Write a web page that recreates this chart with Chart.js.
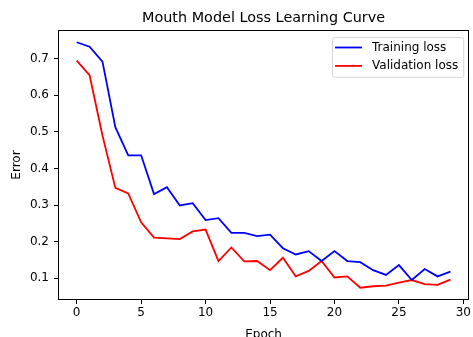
<!DOCTYPE html>
<html>
<head>
<meta charset="utf-8">
<script src="https://cdn.jsdelivr.net/npm/chart.js@4.4.0/dist/chart.umd.min.js"></script>
<style>
  html, body { margin: 0; padding: 0; background: #fff; }
  #wrap { width: 473px; height: 337px; }
</style>
</head>
<body>
<div id="wrap"><canvas id="lossChart" width="473" height="337"></canvas></div>
<script>
// epochs 0..29
var epochs = [];
for (var i = 0; i < 30; i++) {
    epochs.push(i);
}

// values
var trainingLoss = [0.745, 0.733, 0.692, 0.513, 0.436, 0.436, 0.330, 0.349, 0.299, 0.305,
                    0.259, 0.264, 0.224, 0.224, 0.215, 0.219, 0.182, 0.165, 0.174, 0.147,
                    0.174, 0.147, 0.144, 0.122, 0.109, 0.136, 0.095, 0.125, 0.105, 0.118];
var validationLoss = [0.695, 0.655, 0.490, 0.347, 0.332, 0.253, 0.211, 0.209, 0.207, 0.228,
                      0.233, 0.147, 0.184, 0.146, 0.147, 0.122, 0.156, 0.105, 0.120, 0.147,
                      0.102, 0.105, 0.074, 0.078, 0.080, 0.088, 0.095, 0.084, 0.082, 0.096];

var xTicks = [0, 5, 10, 15, 20, 25, 30];
var yTicks = [0.1, 0.2, 0.3, 0.4, 0.5, 0.6, 0.7];

var titleText = "Mouth Model Loss Learning Curve";
var xLabel = "Epoch";
var yLabel = "Error";

var FONT = "'DejaVu Sans', sans-serif";

// matplotlib style 5% margins
var allY = trainingLoss.concat(validationLoss);
var yMin = Math.min.apply(null, allY), yMax = Math.max.apply(null, allY);
var yPad = (yMax - yMin) * 0.05;
var xPad = (epochs[epochs.length - 1] - epochs[0]) * 0.05;

function toPoints(vals) {
    var pts = [];
    for (var i = 0; i < vals.length; i++) pts.push({x: epochs[i], y: vals[i]});
    return pts;
}

// frame, title, axis labels and legend inside the plot
var decorations = {
    id: 'decorations',
    afterDraw: function(chart) {
        var ctx = chart.ctx, a = chart.chartArea;
        ctx.save();
        ctx.strokeStyle = '#000';
        ctx.lineWidth = 1;
        var l = Math.round(a.left) + 0.5, t = Math.round(a.top) + 0.5;
        var r = Math.round(a.right) - 0.5, b = Math.round(a.bottom) - 0.5;
        ctx.strokeRect(l, t, r - l, b - t);

        ctx.fillStyle = '#000';
        ctx.textAlign = 'center';
        ctx.textBaseline = 'middle';
        ctx.font = '14.4px ' + FONT;
        ctx.fillText(titleText, (a.left + a.right) / 2, 18);
        ctx.font = '12px ' + FONT;
        ctx.fillText(xLabel, (a.left + a.right) / 2, a.bottom + 34.5);
        ctx.save();
        ctx.translate(17, (a.top + a.bottom) / 2);
        ctx.rotate(-Math.PI / 2);
        ctx.fillText(yLabel, 0, 0);
        ctx.restore();

        // legend
        var ds = chart.data.datasets;
        ctx.font = '12px ' + FONT;
        var maxW = 0;
        ds.forEach(function(d) { maxW = Math.max(maxW, ctx.measureText(d.label).width); });
        var rowH = 18.4;
        var boxW = 3 + 27 + 10 + maxW + 5;
        var boxH = ds.length * rowH + 3;
        var bx = Math.round(a.right - 6 - boxW), by = Math.round(a.top + 7);
        ctx.fillStyle = 'rgba(255,255,255,0.8)';
        ctx.strokeStyle = '#d6d6d6';
        ctx.lineWidth = 1;
        ctx.beginPath();
        ctx.roundRect(bx + 0.5, by + 0.5, boxW, boxH, 2);
        ctx.fill();
        ctx.stroke();
        ds.forEach(function(d, i) {
            var cy = by + 10.5 + i * rowH;
            ctx.strokeStyle = d.borderColor;
            ctx.lineWidth = d.borderWidth;
            ctx.beginPath();
            ctx.moveTo(bx + 3, cy);
            ctx.lineTo(bx + 30, cy);
            ctx.stroke();
            ctx.fillStyle = '#000';
            ctx.textAlign = 'left';
            ctx.fillText(d.label, bx + 40, cy);
        });
        ctx.restore();
    }
};

new Chart(document.getElementById("lossChart"), {
    type: 'line',
    data: {
        datasets: [{
            label: "Training loss",
            data: toPoints(trainingLoss),
            borderColor: '#0000ff',
            borderWidth: 1.8,
            pointRadius: 0,
            tension: 0
        }, {
            label: "Validation loss",
            data: toPoints(validationLoss),
            borderColor: '#ff0000',
            borderWidth: 1.8,
            pointRadius: 0,
            tension: 0
        }]
    },
    options: {
        responsive: false,
        animation: false,
        layout: { padding: { top: 30, right: 1, left: 0, bottom: 0 } },
        plugins: {
            legend: { display: false },
            title: { display: false },
            tooltip: { enabled: false }
        },
        scales: {
            x: {
                type: 'linear',
                min: epochs[0] - xPad,
                max: epochs[epochs.length - 1] + xPad,
                afterBuildTicks: function(scale) {
                    scale.ticks = xTicks.map(function(v) { return {value: v}; });
                },
                afterFit: function(scale) { scale.height = 37; },
                grid: { drawOnChartArea: false, drawTicks: true, tickLength: 4, tickColor: '#000' },
                border: { display: false },
                ticks: {
                    color: '#000',
                    font: { family: FONT, size: 12 },
                    padding: 2,
                    maxRotation: 0,
                    autoSkip: false
                }
            },
            y: {
                min: yMin - yPad,
                max: yMax + yPad,
                afterBuildTicks: function(scale) {
                    scale.ticks = yTicks.map(function(v) { return {value: v}; });
                },
                afterFit: function(scale) { scale.width = 58; },
                grid: { drawOnChartArea: false, drawTicks: true, tickLength: 4, tickColor: '#000' },
                border: { display: false },
                ticks: {
                    color: '#000',
                    font: { family: FONT, size: 12 },
                    padding: 5,
                    autoSkip: false,
                    callback: function(v) { return v.toFixed(1); }
                }
            }
        }
    },
    plugins: [decorations]
});
</script>
</body>
</html>
